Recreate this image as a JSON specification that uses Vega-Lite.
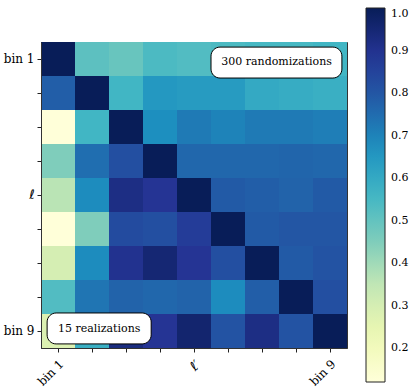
{
  "$schema": "https://vega.github.io/schema/vega-lite/v6.json",
  "width": 306,
  "height": 306,
  "autosize": "none",
  "padding": {"left": 41, "top": 42, "right": 65, "bottom": 43},
  "background": "white",
  "config": {
    "font": "DejaVu Serif",
    "view": {"stroke": "#333", "strokeWidth": 1}
  },
  "datasets": {
    "cells": [
      {"row":1,"col":1,"v":1.0},{"row":1,"col":2,"v":0.51},{"row":1,"col":3,"v":0.49},{"row":1,"col":4,"v":0.54},{"row":1,"col":5,"v":0.53},{"row":1,"col":6,"v":0.54},{"row":1,"col":7,"v":0.55},{"row":1,"col":8,"v":0.55},{"row":1,"col":9,"v":0.56},
      {"row":2,"col":1,"v":0.78},{"row":2,"col":2,"v":1.0},{"row":2,"col":3,"v":0.56},{"row":2,"col":4,"v":0.65},{"row":2,"col":5,"v":0.64},{"row":2,"col":6,"v":0.64},{"row":2,"col":7,"v":0.6},{"row":2,"col":8,"v":0.59},{"row":2,"col":9,"v":0.58},
      {"row":3,"col":1,"v":0.12},{"row":3,"col":2,"v":0.56},{"row":3,"col":3,"v":1.0},{"row":3,"col":4,"v":0.675},{"row":3,"col":5,"v":0.72},{"row":3,"col":6,"v":0.7},{"row":3,"col":7,"v":0.72},{"row":3,"col":8,"v":0.72},{"row":3,"col":9,"v":0.71},
      {"row":4,"col":1,"v":0.45},{"row":4,"col":2,"v":0.745},{"row":4,"col":3,"v":0.82},{"row":4,"col":4,"v":1.0},{"row":4,"col":5,"v":0.76},{"row":4,"col":6,"v":0.76},{"row":4,"col":7,"v":0.76},{"row":4,"col":8,"v":0.765},{"row":4,"col":9,"v":0.76},
      {"row":5,"col":1,"v":0.36},{"row":5,"col":2,"v":0.68},{"row":5,"col":3,"v":0.92},{"row":5,"col":4,"v":0.89},{"row":5,"col":5,"v":1.0},{"row":5,"col":6,"v":0.79},{"row":5,"col":7,"v":0.78},{"row":5,"col":8,"v":0.77},{"row":5,"col":9,"v":0.79},
      {"row":6,"col":1,"v":0.12},{"row":6,"col":2,"v":0.45},{"row":6,"col":3,"v":0.83},{"row":6,"col":4,"v":0.82},{"row":6,"col":5,"v":0.87},{"row":6,"col":6,"v":1.0},{"row":6,"col":7,"v":0.79},{"row":6,"col":8,"v":0.8},{"row":6,"col":9,"v":0.8},
      {"row":7,"col":1,"v":0.3},{"row":7,"col":2,"v":0.68},{"row":7,"col":3,"v":0.9},{"row":7,"col":4,"v":0.95},{"row":7,"col":5,"v":0.89},{"row":7,"col":6,"v":0.82},{"row":7,"col":7,"v":1.0},{"row":7,"col":8,"v":0.79},{"row":7,"col":9,"v":0.81},
      {"row":8,"col":1,"v":0.53},{"row":8,"col":2,"v":0.73},{"row":8,"col":3,"v":0.77},{"row":8,"col":4,"v":0.76},{"row":8,"col":5,"v":0.77},{"row":8,"col":6,"v":0.68},{"row":8,"col":7,"v":0.78},{"row":8,"col":8,"v":1.0},{"row":8,"col":9,"v":0.82},
      {"row":9,"col":1,"v":0.28},{"row":9,"col":2,"v":0.58},{"row":9,"col":3,"v":0.93},{"row":9,"col":4,"v":0.89},{"row":9,"col":5,"v":0.96},{"row":9,"col":6,"v":0.81},{"row":9,"col":7,"v":0.92},{"row":9,"col":8,"v":0.81},{"row":9,"col":9,"v":1.0}
    ],
    "notes": [
      {"label":"300 randomizations","x1":5.5,"x2":9.35,"y1":0.65,"y2":1.56,"cx":7.43,"cy":1.1},
      {"label":"15 realizations","x1":0.68,"x2":3.74,"y1":8.47,"y2":9.38,"cx":2.21,"cy":8.93}
    ]
  },
  "layer": [
    {
      "data": {"name": "cells"},
      "mark": {"type": "rect"},
      "encoding": {
        "x": {
          "field": "col", "type": "ordinal",
          "scale": {"paddingInner": 0, "paddingOuter": 0},
          "axis": {
            "title": null,
            "labelExpr": "datum.value == 1 ? 'bin 1' : datum.value == 5 ? 'ℓ′' : datum.value == 9 ? 'bin 9' : ''",
            "labelAngle": -45, "labelAlign": "right", "labelBaseline": "top",
            "labelFontSize": {"condition": {"test": "datum.value == 5", "value": 13}, "value": 12},
            "labelFont": {"condition": {"test": "datum.value == 5", "value": "DejaVu Sans"}, "value": "DejaVu Serif"},
            "labelFontStyle": {"condition": {"test": "datum.value == 5", "value": "italic"}, "value": "normal"},
            "labelColor": "black", "labelPadding": 6,
            "tickSize": 4, "tickColor": "#222", "domainColor": "#333"
          }
        },
        "y": {
          "field": "row", "type": "ordinal",
          "scale": {"paddingInner": 0, "paddingOuter": 0},
          "axis": {
            "title": null,
            "labelExpr": "datum.value == 1 ? 'bin 1' : datum.value == 5 ? 'ℓ' : datum.value == 9 ? 'bin 9' : ''",
            "labelFontSize": {"condition": {"test": "datum.value == 5", "value": 13}, "value": 12},
            "labelFont": {"condition": {"test": "datum.value == 5", "value": "DejaVu Sans"}, "value": "DejaVu Serif"},
            "labelFontStyle": {"condition": {"test": "datum.value == 5", "value": "italic"}, "value": "normal"},
            "labelColor": "black", "labelPadding": 3,
            "tickSize": 4, "tickColor": "#222", "domainColor": "#333"
          }
        },
        "color": {
          "field": "v", "type": "quantitative",
          "scale": {
            "domain": [0.12, 0.23, 0.34, 0.45, 0.56, 0.67, 0.78, 0.89, 1.0],
            "range": ["#ffffd9", "#edf8b1", "#c7e9b4", "#7fcdbb", "#41b6c4", "#1d91c0", "#225ea8", "#253494", "#081d58"],
            "interpolate": "rgb"
          },
          "legend": {
            "title": null, "orient": "none", "legendX": 325, "legendY": -34,
            "direction": "vertical", "gradientLength": 374, "gradientThickness": 19,
            "values": [0.2, 0.3, 0.4, 0.5, 0.6, 0.7, 0.8, 0.9, 1.0],
            "format": ".1f", "labelFontSize": 11, "labelColor": "black", "labelOffset": 6,
            "labelFlush": false, "labelBaseline": "middle", "labelOverlap": false, "labelFont": "DejaVu Serif",
            "gradientStrokeColor": "#222", "gradientStrokeWidth": 1
          }
        }
      }
    },
    {
      "data": {"name": "notes"},
      "layer": [
        {
          "mark": {"type": "rect", "fill": "white", "stroke": "black", "strokeWidth": 1, "cornerRadius": 9},
          "encoding": {
            "x": {"field": "x1", "type": "quantitative", "scale": {"domain": [0.5, 9.5], "nice": false, "zero": false}, "axis": null},
            "x2": {"field": "x2"},
            "y": {"field": "y1", "type": "quantitative", "scale": {"domain": [0.5, 9.5], "nice": false, "zero": false, "reverse": true}, "axis": null},
            "y2": {"field": "y2"}
          }
        },
        {
          "mark": {"type": "text", "fontSize": 11, "font": "DejaVu Serif", "color": "black", "align": "center", "baseline": "middle"},
          "encoding": {
            "x": {"field": "cx", "type": "quantitative"},
            "y": {"field": "cy", "type": "quantitative"},
            "text": {"field": "label"}
          }
        }
      ]
    }
  ],
  "resolve": {"scale": {"x": "independent", "y": "independent", "color": "independent"}}
}
